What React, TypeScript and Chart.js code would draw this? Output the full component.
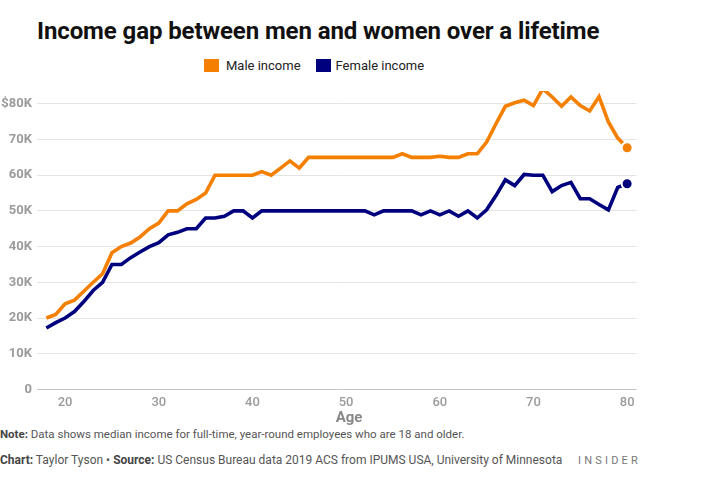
import React, { useEffect, useRef } from "react";
import { Chart, registerables } from "chart.js";

Chart.register(...registerables);

const ages = [
  18, 19, 20, 21, 22, 23, 24, 25, 26, 27, 28, 29, 30, 31, 32, 33, 34, 35, 36, 37, 38, 39,
  40, 41, 42, 43, 44, 45, 46, 47, 48, 49, 50, 51, 52, 53, 54, 55, 56, 57, 58, 59,
  60, 61, 62, 63, 64, 65, 66, 67, 68, 69, 70, 71, 72, 73, 74, 75, 76, 77, 78, 79, 80,
];

const maleIncome = [
  20000, 21000, 24000, 25000, 27500, 30000, 32400, 38300, 40000, 41000, 42700, 45000, 46600, 50000, 50000, 52000, 53200, 55000, 60000, 60000, 60000, 60000,
  60000, 61000, 60000, 62000, 64000, 62000, 65000, 65000, 65000, 65000, 65000, 65000, 65000, 65000, 65000, 65000, 66000, 65000, 65000, 65000,
  65300, 65000, 65000, 66000, 66000, 69300, 74400, 79300, 80300, 81000, 79500, 84200, 81900, 79300, 81900, 79500, 78000, 82000, 74900, 70400, 67700,
];

const femaleIncome = [
  17200, 18700, 20000, 21800, 24600, 27700, 30000, 35000, 35000, 36900, 38500, 40000, 41100, 43300, 44000, 45000, 45000, 48000, 48000, 48500, 50000, 50000,
  48000, 50000, 50000, 50000, 50000, 50000, 50000, 50000, 50000, 50000, 50000, 50000, 50000, 48900, 50000, 50000, 50000, 50000, 48900, 50000,
  48900, 50000, 48500, 50000, 48000, 50300, 54300, 58700, 57100, 60200, 60000, 60000, 55400, 57100, 58000, 53400, 53400, 51800, 50300, 56600, 57600,
];

const yTicks = [0, 10000, 20000, 30000, 40000, 50000, 60000, 70000, 80000];
const yTickLabels = ["0", "10K", "20K", "30K", "40K", "50K", "60K", "70K", "$80K"];
const xTicks = [20, 30, 40, 50, 60, 70, 80];

const MALE_COLOR = "#f57f00";
const FEMALE_COLOR = "#00007f";
const FONT = "Roboto, 'Noto Sans', sans-serif";

export default function App() {
  const canvasRef = useRef<HTMLCanvasElement | null>(null);

  useEffect(() => {
    const canvas = canvasRef.current;
    if (!canvas) return;
    const lastIdx = ages.length - 1;
    const radii = ages.map((_, i) => (i === lastIdx ? 5.5 : 0));
    const chart = new Chart(canvas, {
      type: "line",
      data: {
        datasets: [
          {
            label: "Male income",
            data: ages.map((a, i) => ({ x: a, y: maleIncome[i] })),
            borderColor: MALE_COLOR,
            backgroundColor: MALE_COLOR,
            borderWidth: 3.6,
            pointRadius: radii,
            pointBorderColor: "#ffffff",
            pointBorderWidth: 2,
            pointBackgroundColor: MALE_COLOR,
            tension: 0,
            clip: false,
          },
          {
            label: "Female income",
            data: ages.map((a, i) => ({ x: a, y: femaleIncome[i] })),
            borderColor: FEMALE_COLOR,
            backgroundColor: FEMALE_COLOR,
            borderWidth: 3.6,
            pointRadius: radii,
            pointBorderColor: "#ffffff",
            pointBorderWidth: 2,
            pointBackgroundColor: FEMALE_COLOR,
            tension: 0,
            clip: false,
          },
        ],
      },
      options: {
        animation: false,
        responsive: true,
        maintainAspectRatio: false,
        layout: { padding: { top: 0, right: 0, bottom: 0, left: 0 } },
        plugins: {
          legend: { display: false },
          tooltip: { enabled: false },
        },
        scales: {
          x: {
            type: "linear",
            min: 17,
            max: 81,
            afterBuildTicks: (scale: any) => {
              scale.ticks = xTicks.map((v) => ({ value: v }));
            },
            grid: { display: false, drawTicks: false },
            border: { display: false },
            ticks: {
              color: "#9b9b9b",
              font: { family: FONT, size: 13, weight: 500 },
              padding: 6,
              maxRotation: 0,
            },
          },
          y: {
            min: 0,
            max: 80000,
            afterBuildTicks: (scale: any) => {
              scale.ticks = yTicks.map((v) => ({ value: v }));
            },
            afterFit: (scale: any) => {
              scale.width = 37;
            },
            grid: {
              drawTicks: false,
              color: (ctx: any) => (ctx.tick && ctx.tick.value === 0 ? "#c4c4c4" : "#e4e4e4"),
              lineWidth: 1,
            },
            border: { display: false },
            ticks: {
              color: "#9b9b9b",
              font: { family: FONT, size: 13, weight: "bold" },
              padding: 5,
              callback: (v: any) => {
                const i = yTicks.indexOf(Number(v));
                return i >= 0 ? yTickLabels[i] : "";
              },
            },
          },
        },
      },
    });
    return () => chart.destroy();
  }, []);

  return (
    <div
      style={{
        position: "fixed",
        left: 0,
        top: 0,
        width: 726,
        height: 484,
        background: "#ffffff",
        fontFamily: FONT,
        overflow: "hidden",
      }}
    >
      <div
        style={{
          position: "absolute",
          left: 37,
          top: 17,
          fontSize: 24,
          fontWeight: 700,
          color: "#111111",
          letterSpacing: -0.1,
          whiteSpace: "nowrap",
        }}
      >
        Income gap between men and women over a lifetime
      </div>
      <div
        style={{
          position: "absolute",
          left: 204,
          top: 58,
          display: "flex",
          alignItems: "center",
          fontSize: 13,
          color: "#222222",
          whiteSpace: "nowrap",
        }}
      >
        <span style={{ display: "inline-block", width: 15, height: 13, background: MALE_COLOR, marginRight: 7 }} />
        <span style={{ marginRight: 15 }}>Male income</span>
        <span style={{ display: "inline-block", width: 15, height: 13, background: FEMALE_COLOR, marginRight: 5 }} />
        <span>Female income</span>
      </div>
      <div style={{ position: "absolute", left: 0, top: 91, width: 644, height: 326 }}>
        <canvas ref={canvasRef} />
      </div>
      <div
        style={{
          position: "absolute",
          left: 349,
          top: 408,
          width: 0,
          display: "flex",
          justifyContent: "center",
          fontSize: 15,
          fontWeight: 700,
          color: "#888888",
          whiteSpace: "nowrap",
        }}
      >
        <span>Age</span>
      </div>
      <div
        style={{
          position: "absolute",
          left: 0,
          top: 427,
          fontSize: 11.5,
          color: "#555555",
          whiteSpace: "nowrap",
        }}
      >
        <b style={{ color: "#444444" }}>Note:</b> Data shows median income for full-time, year-round employees who are 18 and older.
      </div>
      <div
        style={{
          position: "absolute",
          left: 0,
          top: 453,
          fontSize: 12,
          color: "#555555",
          whiteSpace: "nowrap",
        }}
      >
        <b style={{ color: "#444444" }}>Chart:</b> Taylor Tyson • <b style={{ color: "#444444" }}>Source:</b> US Census Bureau data 2019 ACS from IPUMS USA, University of Minnesota
      </div>
      <div
        style={{
          position: "absolute",
          left: 578,
          top: 454,
          fontSize: 11,
          color: "#777777",
          letterSpacing: 3.2,
          whiteSpace: "nowrap",
        }}
      >
        INSIDER
      </div>
    </div>
  );
}
